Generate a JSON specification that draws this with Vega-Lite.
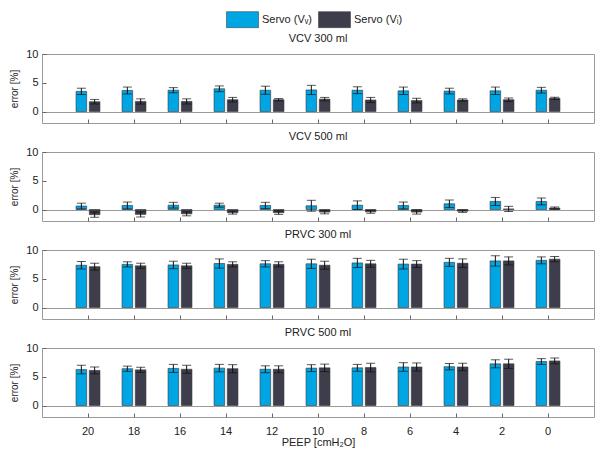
{
  "$schema": "https://vega.github.io/schema/vega-lite/v6.json",
  "padding": {"left": 9, "top": 3, "right": 0, "bottom": 2},
  "background": "white",
  "config": {
    "font": "Liberation Sans",
    "view": {"stroke": "#9a9a9a", "strokeWidth": 1},
    "axis": {"labelFont": "Liberation Sans", "labelFontSize": 11, "labelColor": "#222", "titleFont": "Liberation Sans", "titleFontSize": 10, "titleFontWeight": "normal", "titleColor": "#222", "domain": false, "grid": false, "tickColor": "#666", "tickSize": -4, "labelOverlap": false, "labelBound": false},
    "title": {"fontSize": 11, "fontWeight": "normal", "font": "Liberation Sans", "offset": 4, "color": "#222"},
    "concat": {"spacing": 6}
  },
  "datasets": {
    "d": [
      {"mode":"VCV 300 ml","peep":20,"series":"Servo (Vᵥ)","mean":3.5,"lo":2.95,"hi":4.05},
      {"mode":"VCV 300 ml","peep":18,"series":"Servo (Vᵥ)","mean":3.65,"lo":3.05,"hi":4.25},
      {"mode":"VCV 300 ml","peep":16,"series":"Servo (Vᵥ)","mean":3.7,"lo":3.25,"hi":4.15},
      {"mode":"VCV 300 ml","peep":14,"series":"Servo (Vᵥ)","mean":3.95,"lo":3.45,"hi":4.45},
      {"mode":"VCV 300 ml","peep":12,"series":"Servo (Vᵥ)","mean":3.7,"lo":3.0,"hi":4.4},
      {"mode":"VCV 300 ml","peep":10,"series":"Servo (Vᵥ)","mean":3.75,"lo":2.95,"hi":4.55},
      {"mode":"VCV 300 ml","peep":8,"series":"Servo (Vᵥ)","mean":3.7,"lo":3.1,"hi":4.3},
      {"mode":"VCV 300 ml","peep":6,"series":"Servo (Vᵥ)","mean":3.6,"lo":2.95,"hi":4.25},
      {"mode":"VCV 300 ml","peep":4,"series":"Servo (Vᵥ)","mean":3.55,"lo":3.05,"hi":4.05},
      {"mode":"VCV 300 ml","peep":2,"series":"Servo (Vᵥ)","mean":3.6,"lo":2.95,"hi":4.25},
      {"mode":"VCV 300 ml","peep":0,"series":"Servo (Vᵥ)","mean":3.7,"lo":3.2,"hi":4.2},
      {"mode":"VCV 300 ml","peep":20,"series":"Servo (Vᵢ)","mean":1.7,"lo":1.3,"hi":2.1},
      {"mode":"VCV 300 ml","peep":18,"series":"Servo (Vᵢ)","mean":1.75,"lo":1.3,"hi":2.2},
      {"mode":"VCV 300 ml","peep":16,"series":"Servo (Vᵢ)","mean":1.75,"lo":1.3,"hi":2.2},
      {"mode":"VCV 300 ml","peep":14,"series":"Servo (Vᵢ)","mean":2.05,"lo":1.65,"hi":2.45},
      {"mode":"VCV 300 ml","peep":12,"series":"Servo (Vᵢ)","mean":2.05,"lo":1.85,"hi":2.25},
      {"mode":"VCV 300 ml","peep":10,"series":"Servo (Vᵢ)","mean":2.15,"lo":1.85,"hi":2.45},
      {"mode":"VCV 300 ml","peep":8,"series":"Servo (Vᵢ)","mean":2.0,"lo":1.55,"hi":2.45},
      {"mode":"VCV 300 ml","peep":6,"series":"Servo (Vᵢ)","mean":1.9,"lo":1.5,"hi":2.3},
      {"mode":"VCV 300 ml","peep":4,"series":"Servo (Vᵢ)","mean":2.0,"lo":1.8,"hi":2.2},
      {"mode":"VCV 300 ml","peep":2,"series":"Servo (Vᵢ)","mean":2.05,"lo":1.75,"hi":2.35},
      {"mode":"VCV 300 ml","peep":0,"series":"Servo (Vᵢ)","mean":2.3,"lo":2.1,"hi":2.5},

      {"mode":"VCV 500 ml","peep":20,"series":"Servo (Vᵥ)","mean":0.6,"lo":0.1,"hi":1.1},
      {"mode":"VCV 500 ml","peep":18,"series":"Servo (Vᵥ)","mean":0.7,"lo":0.1,"hi":1.3},
      {"mode":"VCV 500 ml","peep":16,"series":"Servo (Vᵥ)","mean":0.75,"lo":0.25,"hi":1.25},
      {"mode":"VCV 500 ml","peep":14,"series":"Servo (Vᵥ)","mean":0.75,"lo":0.4,"hi":1.1},
      {"mode":"VCV 500 ml","peep":12,"series":"Servo (Vᵥ)","mean":0.7,"lo":0.15,"hi":1.25},
      {"mode":"VCV 500 ml","peep":10,"series":"Servo (Vᵥ)","mean":0.65,"lo":-0.3,"hi":1.6},
      {"mode":"VCV 500 ml","peep":8,"series":"Servo (Vᵥ)","mean":0.75,"lo":0.0,"hi":1.5},
      {"mode":"VCV 500 ml","peep":6,"series":"Servo (Vᵥ)","mean":0.7,"lo":0.1,"hi":1.3},
      {"mode":"VCV 500 ml","peep":4,"series":"Servo (Vᵥ)","mean":1.0,"lo":0.35,"hi":1.65},
      {"mode":"VCV 500 ml","peep":2,"series":"Servo (Vᵥ)","mean":1.4,"lo":0.7,"hi":2.1},
      {"mode":"VCV 500 ml","peep":0,"series":"Servo (Vᵥ)","mean":1.4,"lo":0.8,"hi":2.0},
      {"mode":"VCV 500 ml","peep":20,"series":"Servo (Vᵢ)","mean":-0.9,"lo":-1.35,"hi":-0.45},
      {"mode":"VCV 500 ml","peep":18,"series":"Servo (Vᵢ)","mean":-0.85,"lo":-1.3,"hi":-0.4},
      {"mode":"VCV 500 ml","peep":16,"series":"Servo (Vᵢ)","mean":-0.75,"lo":-1.1,"hi":-0.4},
      {"mode":"VCV 500 ml","peep":14,"series":"Servo (Vᵢ)","mean":-0.55,"lo":-0.8,"hi":-0.3},
      {"mode":"VCV 500 ml","peep":12,"series":"Servo (Vᵢ)","mean":-0.55,"lo":-0.85,"hi":-0.25},
      {"mode":"VCV 500 ml","peep":10,"series":"Servo (Vᵢ)","mean":-0.45,"lo":-0.75,"hi":-0.15},
      {"mode":"VCV 500 ml","peep":8,"series":"Servo (Vᵢ)","mean":-0.4,"lo":-0.65,"hi":-0.15},
      {"mode":"VCV 500 ml","peep":6,"series":"Servo (Vᵢ)","mean":-0.45,"lo":-0.8,"hi":-0.1},
      {"mode":"VCV 500 ml","peep":4,"series":"Servo (Vᵢ)","mean":-0.3,"lo":-0.5,"hi":-0.1},
      {"mode":"VCV 500 ml","peep":2,"series":"Servo (Vᵢ)","mean":0.1,"lo":-0.35,"hi":0.55},
      {"mode":"VCV 500 ml","peep":0,"series":"Servo (Vᵢ)","mean":0.25,"lo":0.05,"hi":0.45},

      {"mode":"PRVC 300 ml","peep":20,"series":"Servo (Vᵥ)","mean":7.35,"lo":6.7,"hi":8.0},
      {"mode":"PRVC 300 ml","peep":18,"series":"Servo (Vᵥ)","mean":7.5,"lo":7.05,"hi":7.95},
      {"mode":"PRVC 300 ml","peep":16,"series":"Servo (Vᵥ)","mean":7.4,"lo":6.75,"hi":8.05},
      {"mode":"PRVC 300 ml","peep":14,"series":"Servo (Vᵥ)","mean":7.65,"lo":6.85,"hi":8.45},
      {"mode":"PRVC 300 ml","peep":12,"series":"Servo (Vᵥ)","mean":7.6,"lo":7.05,"hi":8.15},
      {"mode":"PRVC 300 ml","peep":10,"series":"Servo (Vᵥ)","mean":7.6,"lo":6.8,"hi":8.4},
      {"mode":"PRVC 300 ml","peep":8,"series":"Servo (Vᵥ)","mean":7.75,"lo":6.95,"hi":8.55},
      {"mode":"PRVC 300 ml","peep":6,"series":"Servo (Vᵥ)","mean":7.55,"lo":6.7,"hi":8.4},
      {"mode":"PRVC 300 ml","peep":4,"series":"Servo (Vᵥ)","mean":7.85,"lo":7.15,"hi":8.55},
      {"mode":"PRVC 300 ml","peep":2,"series":"Servo (Vᵥ)","mean":8.1,"lo":7.2,"hi":9.0},
      {"mode":"PRVC 300 ml","peep":0,"series":"Servo (Vᵥ)","mean":8.2,"lo":7.6,"hi":8.8},
      {"mode":"PRVC 300 ml","peep":20,"series":"Servo (Vᵢ)","mean":7.1,"lo":6.5,"hi":7.7},
      {"mode":"PRVC 300 ml","peep":18,"series":"Servo (Vᵢ)","mean":7.25,"lo":6.8,"hi":7.7},
      {"mode":"PRVC 300 ml","peep":16,"series":"Servo (Vᵢ)","mean":7.25,"lo":6.8,"hi":7.7},
      {"mode":"PRVC 300 ml","peep":14,"series":"Servo (Vᵢ)","mean":7.5,"lo":7.05,"hi":7.95},
      {"mode":"PRVC 300 ml","peep":12,"series":"Servo (Vᵢ)","mean":7.5,"lo":7.05,"hi":7.95},
      {"mode":"PRVC 300 ml","peep":10,"series":"Servo (Vᵢ)","mean":7.35,"lo":6.65,"hi":8.05},
      {"mode":"PRVC 300 ml","peep":8,"series":"Servo (Vᵢ)","mean":7.6,"lo":7.0,"hi":8.2},
      {"mode":"PRVC 300 ml","peep":6,"series":"Servo (Vᵢ)","mean":7.55,"lo":6.95,"hi":8.15},
      {"mode":"PRVC 300 ml","peep":4,"series":"Servo (Vᵢ)","mean":7.7,"lo":6.95,"hi":8.45},
      {"mode":"PRVC 300 ml","peep":2,"series":"Servo (Vᵢ)","mean":8.1,"lo":7.4,"hi":8.8},
      {"mode":"PRVC 300 ml","peep":0,"series":"Servo (Vᵢ)","mean":8.4,"lo":7.95,"hi":8.85},

      {"mode":"PRVC 500 ml","peep":20,"series":"Servo (Vᵥ)","mean":6.25,"lo":5.5,"hi":7.0},
      {"mode":"PRVC 500 ml","peep":18,"series":"Servo (Vᵥ)","mean":6.4,"lo":5.95,"hi":6.85},
      {"mode":"PRVC 500 ml","peep":16,"series":"Servo (Vᵥ)","mean":6.45,"lo":5.75,"hi":7.15},
      {"mode":"PRVC 500 ml","peep":14,"series":"Servo (Vᵥ)","mean":6.5,"lo":5.85,"hi":7.15},
      {"mode":"PRVC 500 ml","peep":12,"series":"Servo (Vᵥ)","mean":6.3,"lo":5.7,"hi":6.9},
      {"mode":"PRVC 500 ml","peep":10,"series":"Servo (Vᵥ)","mean":6.5,"lo":5.9,"hi":7.1},
      {"mode":"PRVC 500 ml","peep":8,"series":"Servo (Vᵥ)","mean":6.55,"lo":5.95,"hi":7.15},
      {"mode":"PRVC 500 ml","peep":6,"series":"Servo (Vᵥ)","mean":6.7,"lo":5.95,"hi":7.45},
      {"mode":"PRVC 500 ml","peep":4,"series":"Servo (Vᵥ)","mean":6.75,"lo":6.2,"hi":7.3},
      {"mode":"PRVC 500 ml","peep":2,"series":"Servo (Vᵥ)","mean":7.25,"lo":6.55,"hi":7.95},
      {"mode":"PRVC 500 ml","peep":0,"series":"Servo (Vᵥ)","mean":7.65,"lo":7.15,"hi":8.15},
      {"mode":"PRVC 500 ml","peep":20,"series":"Servo (Vᵢ)","mean":6.1,"lo":5.5,"hi":6.7},
      {"mode":"PRVC 500 ml","peep":18,"series":"Servo (Vᵢ)","mean":6.2,"lo":5.75,"hi":6.65},
      {"mode":"PRVC 500 ml","peep":16,"series":"Servo (Vᵢ)","mean":6.3,"lo":5.6,"hi":7.0},
      {"mode":"PRVC 500 ml","peep":14,"series":"Servo (Vᵢ)","mean":6.4,"lo":5.7,"hi":7.1},
      {"mode":"PRVC 500 ml","peep":12,"series":"Servo (Vᵢ)","mean":6.3,"lo":5.7,"hi":6.9},
      {"mode":"PRVC 500 ml","peep":10,"series":"Servo (Vᵢ)","mean":6.55,"lo":5.9,"hi":7.2},
      {"mode":"PRVC 500 ml","peep":8,"series":"Servo (Vᵢ)","mean":6.6,"lo":5.85,"hi":7.35},
      {"mode":"PRVC 500 ml","peep":6,"series":"Servo (Vᵢ)","mean":6.7,"lo":6.0,"hi":7.4},
      {"mode":"PRVC 500 ml","peep":4,"series":"Servo (Vᵢ)","mean":6.7,"lo":6.05,"hi":7.35},
      {"mode":"PRVC 500 ml","peep":2,"series":"Servo (Vᵢ)","mean":7.25,"lo":6.45,"hi":8.05},
      {"mode":"PRVC 500 ml","peep":0,"series":"Servo (Vᵢ)","mean":7.75,"lo":7.25,"hi":8.25}
    ]
  },
  "resolve": {"scale": {"color": "shared"}, "legend": {"color": "shared"}},
  "vconcat": [
    {
      "title": "VCV 300 ml",
      "width": 552, "height": 69,
      "data": {"name": "d"},
      "transform": [{"filter": "datum.mode === 'VCV 300 ml'"}],
      "layer": [
        {"mark": {"type": "bar", "stroke": "#333", "strokeWidth": 0.6},
         "encoding": {
           "x": {"field": "peep", "type": "ordinal", "scale": {"domain": [20,18,16,14,12,10,8,6,4,2,0], "paddingInner": 0.48, "paddingOuter": 0.74}, "axis": {"labels": false, "title": null}},
           "xOffset": {"field": "series", "type": "nominal", "scale": {"domain": ["Servo (Vᵥ)", "Servo (Vᵢ)"], "paddingInner": 0.2}},
           "y": {"field": "mean", "type": "quantitative", "scale": {"domain": [-2, 10], "nice": false, "zero": false}, "axis": {"values": [0, 5, 10], "tickCount": 3, "labelOverlap": false, "title": "error [%]", "labelPadding": 8, "titlePadding": 6, "grid": true, "gridColor": {"condition": {"test": "datum.value === 0", "value": "#9a9a9a"}, "value": "transparent"}}},
           "color": {"field": "series", "type": "nominal", "scale": {"domain": ["Servo (Vᵥ)", "Servo (Vᵢ)"], "range": ["#00a6e4", "#3d3d4b"]},
             "legend": {"orient": "none", "legendX": 184, "legendY": -51, "direction": "horizontal", "title": null, "padding": 0, "symbolType": "M-1,-0.5H1V0.5H-1Z", "symbolSize": 1024, "symbolStrokeColor": "#444", "symbolStrokeWidth": 0.6, "symbolOpacity": 1, "labelFontSize": 11, "labelFont": "Liberation Sans", "labelColor": "#222", "labelOffset": 3, "columnPadding": 5}}
         }},
        {"mark": {"type": "rule", "color": "#111", "strokeWidth": 1},
         "encoding": {"x": {"field": "peep", "type": "ordinal"}, "xOffset": {"field": "series", "type": "nominal"}, "y": {"field": "lo", "type": "quantitative"}, "y2": {"field": "hi"}}},
        {"mark": {"type": "tick", "color": "#111", "size": 9, "thickness": 1},
         "encoding": {"x": {"field": "peep", "type": "ordinal"}, "xOffset": {"field": "series", "type": "nominal"}, "y": {"field": "hi", "type": "quantitative"}}},
        {"mark": {"type": "tick", "color": "#111", "size": 9, "thickness": 1},
         "encoding": {"x": {"field": "peep", "type": "ordinal"}, "xOffset": {"field": "series", "type": "nominal"}, "y": {"field": "lo", "type": "quantitative"}}}
      ]
    },
    {
      "title": "VCV 500 ml",
      "width": 552, "height": 69,
      "data": {"name": "d"},
      "transform": [{"filter": "datum.mode === 'VCV 500 ml'"}],
      "layer": [
        {"mark": {"type": "bar", "stroke": "#333", "strokeWidth": 0.6},
         "encoding": {
           "x": {"field": "peep", "type": "ordinal", "scale": {"domain": [20,18,16,14,12,10,8,6,4,2,0], "paddingInner": 0.48, "paddingOuter": 0.74}, "axis": {"labels": false, "title": null}},
           "xOffset": {"field": "series", "type": "nominal", "scale": {"domain": ["Servo (Vᵥ)", "Servo (Vᵢ)"], "paddingInner": 0.2}},
           "y": {"field": "mean", "type": "quantitative", "scale": {"domain": [-2, 10], "nice": false, "zero": false}, "axis": {"values": [0, 5, 10], "tickCount": 3, "labelOverlap": false, "title": "error [%]", "labelPadding": 8, "titlePadding": 6, "grid": true, "gridColor": {"condition": {"test": "datum.value === 0", "value": "#9a9a9a"}, "value": "transparent"}}},
           "color": {"field": "series", "type": "nominal", "legend": null}
         }},
        {"mark": {"type": "rule", "color": "#111", "strokeWidth": 1},
         "encoding": {"x": {"field": "peep", "type": "ordinal"}, "xOffset": {"field": "series", "type": "nominal"}, "y": {"field": "lo", "type": "quantitative"}, "y2": {"field": "hi"}}},
        {"mark": {"type": "tick", "color": "#111", "size": 9, "thickness": 1},
         "encoding": {"x": {"field": "peep", "type": "ordinal"}, "xOffset": {"field": "series", "type": "nominal"}, "y": {"field": "hi", "type": "quantitative"}}},
        {"mark": {"type": "tick", "color": "#111", "size": 9, "thickness": 1},
         "encoding": {"x": {"field": "peep", "type": "ordinal"}, "xOffset": {"field": "series", "type": "nominal"}, "y": {"field": "lo", "type": "quantitative"}}}
      ]
    },
    {
      "title": "PRVC 300 ml",
      "width": 552, "height": 69,
      "data": {"name": "d"},
      "transform": [{"filter": "datum.mode === 'PRVC 300 ml'"}],
      "layer": [
        {"mark": {"type": "bar", "stroke": "#333", "strokeWidth": 0.6},
         "encoding": {
           "x": {"field": "peep", "type": "ordinal", "scale": {"domain": [20,18,16,14,12,10,8,6,4,2,0], "paddingInner": 0.48, "paddingOuter": 0.74}, "axis": {"labels": false, "title": null}},
           "xOffset": {"field": "series", "type": "nominal", "scale": {"domain": ["Servo (Vᵥ)", "Servo (Vᵢ)"], "paddingInner": 0.2}},
           "y": {"field": "mean", "type": "quantitative", "scale": {"domain": [-2, 10], "nice": false, "zero": false}, "axis": {"values": [0, 5, 10], "tickCount": 3, "labelOverlap": false, "title": "error [%]", "labelPadding": 8, "titlePadding": 6, "grid": true, "gridColor": {"condition": {"test": "datum.value === 0", "value": "#9a9a9a"}, "value": "transparent"}}},
           "color": {"field": "series", "type": "nominal", "legend": null}
         }},
        {"mark": {"type": "rule", "color": "#111", "strokeWidth": 1},
         "encoding": {"x": {"field": "peep", "type": "ordinal"}, "xOffset": {"field": "series", "type": "nominal"}, "y": {"field": "lo", "type": "quantitative"}, "y2": {"field": "hi"}}},
        {"mark": {"type": "tick", "color": "#111", "size": 9, "thickness": 1},
         "encoding": {"x": {"field": "peep", "type": "ordinal"}, "xOffset": {"field": "series", "type": "nominal"}, "y": {"field": "hi", "type": "quantitative"}}},
        {"mark": {"type": "tick", "color": "#111", "size": 9, "thickness": 1},
         "encoding": {"x": {"field": "peep", "type": "ordinal"}, "xOffset": {"field": "series", "type": "nominal"}, "y": {"field": "lo", "type": "quantitative"}}}
      ]
    },
    {
      "title": "PRVC 500 ml",
      "width": 552, "height": 69,
      "data": {"name": "d"},
      "transform": [{"filter": "datum.mode === 'PRVC 500 ml'"}],
      "layer": [
        {"mark": {"type": "bar", "stroke": "#333", "strokeWidth": 0.6},
         "encoding": {
           "x": {"field": "peep", "type": "ordinal", "scale": {"domain": [20,18,16,14,12,10,8,6,4,2,0], "paddingInner": 0.48, "paddingOuter": 0.74}, "axis": {"labelAngle": 0, "labelPadding": 12, "labelFontSize": 11, "title": "PEEP [cmH₂O]", "titlePadding": 0, "titleFontSize": 11}},
           "xOffset": {"field": "series", "type": "nominal", "scale": {"domain": ["Servo (Vᵥ)", "Servo (Vᵢ)"], "paddingInner": 0.2}},
           "y": {"field": "mean", "type": "quantitative", "scale": {"domain": [-2, 10], "nice": false, "zero": false}, "axis": {"values": [0, 5, 10], "tickCount": 3, "labelOverlap": false, "title": "error [%]", "labelPadding": 8, "titlePadding": 6, "grid": true, "gridColor": {"condition": {"test": "datum.value === 0", "value": "#9a9a9a"}, "value": "transparent"}}},
           "color": {"field": "series", "type": "nominal", "legend": null}
         }},
        {"mark": {"type": "rule", "color": "#111", "strokeWidth": 1},
         "encoding": {"x": {"field": "peep", "type": "ordinal"}, "xOffset": {"field": "series", "type": "nominal"}, "y": {"field": "lo", "type": "quantitative"}, "y2": {"field": "hi"}}},
        {"mark": {"type": "tick", "color": "#111", "size": 9, "thickness": 1},
         "encoding": {"x": {"field": "peep", "type": "ordinal"}, "xOffset": {"field": "series", "type": "nominal"}, "y": {"field": "hi", "type": "quantitative"}}},
        {"mark": {"type": "tick", "color": "#111", "size": 9, "thickness": 1},
         "encoding": {"x": {"field": "peep", "type": "ordinal"}, "xOffset": {"field": "series", "type": "nominal"}, "y": {"field": "lo", "type": "quantitative"}}}
      ]
    }
  ]
}
